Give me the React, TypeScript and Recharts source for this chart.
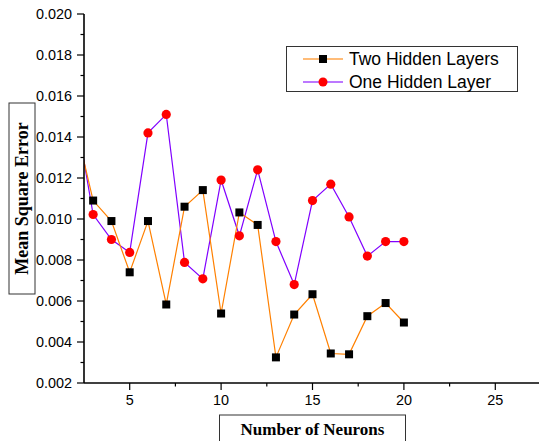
import { LineChart, Line, XAxis, YAxis, Legend, Label } from "recharts"

// neuron counts (2 sits just left of the visible axis, lines enter from the edge)
const neurons = [2, 3, 4, 5, 6, 7, 8, 9, 10, 11, 12, 13, 14, 15, 16, 17, 18, 19, 20]
const twoHidden = [
  0.0147, 0.0109, 0.0099, 0.0074, 0.0099, 0.00583, 0.0106, 0.01141, 0.00539, 0.01032,
  0.00971, 0.00325, 0.00534, 0.00633, 0.00344, 0.0034, 0.00526, 0.0059, 0.00495,
]
const oneHidden = [
  0.0154, 0.01022, 0.009, 0.00837, 0.0142, 0.0151, 0.00788, 0.00708, 0.0119, 0.00918,
  0.0124, 0.0089, 0.0068, 0.0109, 0.0117, 0.0101, 0.00819, 0.0089, 0.0089,
]
const yTicks = [
  0.002, 0.003, 0.004, 0.005, 0.006, 0.007, 0.008, 0.009, 0.01, 0.011, 0.012, 0.013, 0.014,
  0.015, 0.016, 0.017, 0.018, 0.019, 0.02,
]
const xTicks = [5, 7.5, 10, 12.5, 15, 17.5, 20, 22.5, 25]

const data = neurons.map((n, i) => ({ n, two: twoHidden[i], one: oneHidden[i] }))

const ORANGE = "#FF8000"
const VIOLET = "#8000FF"
const AXIS_FONT = "'Liberation Sans', Arial, sans-serif"
const TITLE_FONT = "'Liberation Serif', 'Times New Roman', serif"

function YTick({ x, y, payload }: any) {
  const v = payload.value
  const major = Math.round(v * 1000) % 2 === 0
  const ax = x + 12
  return (
    <g>
      <line x1={ax - (major ? 7 : 3.5)} x2={ax} y1={y} y2={y} stroke="#000" strokeWidth={1.2} />
      {major && (
        <text x={x} y={y} dy="0.36em" textAnchor="end" fontSize={14.4} fontFamily={AXIS_FONT} fill="#000">
          {v.toFixed(3)}
        </text>
      )}
    </g>
  )
}

function XTick({ x, y, payload }: any) {
  const v = payload.value
  const major = v % 5 === 0
  const ay = y - 12
  return (
    <g>
      <line x1={x} x2={x} y1={ay} y2={ay + (major ? 7 : 3.5)} stroke="#000" strokeWidth={1.2} />
      {major && (
        <text x={x} y={y} dy="0.72em" textAnchor="middle" fontSize={14.4} fontFamily={AXIS_FONT} fill="#000">
          {v}
        </text>
      )}
    </g>
  )
}

function SquareDot({ cx, cy, payload }: any) {
  if (payload.n < 2.5) return <g key={`s-${payload.n}`} />
  return <rect key={`s-${payload.n}`} x={cx - 4} y={cy - 4} width={8} height={8} fill="#000" />
}

function CircleDot({ cx, cy, payload }: any) {
  if (payload.n < 2.5) return <g key={`c-${payload.n}`} />
  return <circle key={`c-${payload.n}`} cx={cx} cy={cy} r={4.6} fill="#FF0000" />
}

const series = [
  { name: "Two Hidden Layers", color: ORANGE, marker: "square" },
  { name: "One Hidden Layer", color: VIOLET, marker: "circle" },
]

function LegendBox() {
  return (
    <div
      style={{
        width: 232,
        height: 46,
        border: "1px solid #333",
        boxSizing: "border-box",
        background: "#fff",
        position: "relative",
      }}
    >
      {series.map((s, i) => (
        <div
          key={s.name}
          style={{ position: "absolute", left: 0, top: 1 + i * 23, height: 22, display: "flex", alignItems: "center" }}
        >
          <svg width={60} height={22} style={{ display: "block" }}>
            <line x1={16} x2={56} y1={11} y2={11} stroke={s.color} strokeWidth={1.5} opacity={0.7} />
            {s.marker === "square" ? (
              <rect x={32} y={7} width={8} height={8} fill="#000" />
            ) : (
              <circle cx={36} cy={11} r={4.5} fill="#FF0000" />
            )}
          </svg>
          <span style={{ fontFamily: AXIS_FONT, fontSize: 17.5, color: "#000", marginLeft: 2, lineHeight: "22px" }}>
            {s.name}
          </span>
        </div>
      ))}
    </div>
  )
}

function YTitle({ viewBox }: any) {
  const cx = viewBox.x + 22
  const cy = viewBox.y + viewBox.height / 2
  return (
    <g>
      <rect x={cx - 13} y={cy - 95.5} width={26} height={191} fill="#fff" stroke="#333" strokeWidth={1} />
      <text
        x={cx}
        y={cy}
        transform={`rotate(-90 ${cx} ${cy})`}
        textAnchor="middle"
        dy="0.35em"
        fontFamily={TITLE_FONT}
        fontWeight="bold"
        fontSize={18}
        fill="#000"
      >
        Mean Square Error
      </text>
    </g>
  )
}

function XTitle({ viewBox }: any) {
  const cx = viewBox.x + viewBox.width / 2
  const top = viewBox.y + 32
  return (
    <g>
      <rect x={cx - 93} y={top} width={186} height={40} fill="#fff" stroke="#333" strokeWidth={1} />
      <text x={cx} y={top + 20} textAnchor="middle" fontFamily={TITLE_FONT} fontWeight="bold" fontSize={17} fill="#000">
        Number of Neurons
      </text>
    </g>
  )
}

export default function App() {
  return (
    <div style={{ position: "absolute", left: 0, top: 0, width: 539, height: 441, background: "#fff" }}>
      <LineChart width={539} height={441} data={data} margin={{ top: 14, right: -2, left: 0, bottom: 0 }}>
        <XAxis
          dataKey="n"
          type="number"
          domain={[2.5, 27.5]}
          allowDataOverflow
          ticks={xTicks}
          interval={0}
          height={58}
          tickSize={7}
          tickMargin={5}
          tickLine={false}
          tick={<XTick />}
          axisLine={{ stroke: "#000", strokeWidth: 1.6 }}
        >
          <Label content={<XTitle />} />
        </XAxis>
        <YAxis
          type="number"
          domain={[0.002, 0.02]}
          allowDataOverflow
          ticks={yTicks}
          interval={0}
          width={84}
          tickSize={7}
          tickMargin={5}
          tickLine={false}
          tick={<YTick />}
          axisLine={{ stroke: "#000", strokeWidth: 1.6 }}
        >
          <Label content={<YTitle />} />
        </YAxis>
        <Legend
          layout="vertical"
          align="center"
          verticalAlign="middle"
          content={<LegendBox />}
          wrapperStyle={{ left: 286, top: 46, width: 232, height: 46 }}
        />
        <Line
          dataKey="one"
          name="One Hidden Layer"
          stroke={VIOLET}
          strokeWidth={1.2}
          dot={<CircleDot />}
          activeDot={false}
          isAnimationActive={false}
        />
        <Line
          dataKey="two"
          name="Two Hidden Layers"
          stroke={ORANGE}
          strokeWidth={1.2}
          dot={<SquareDot />}
          activeDot={false}
          isAnimationActive={false}
        />
      </LineChart>
    </div>
  )
}
